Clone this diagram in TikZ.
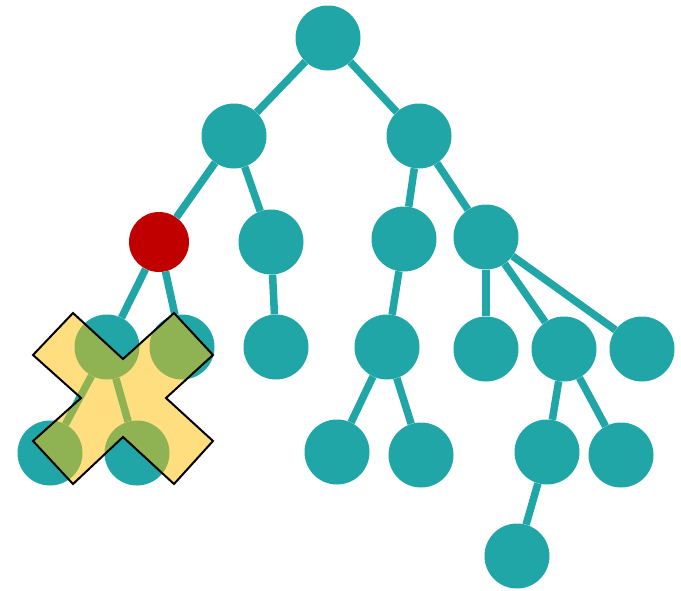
\documentclass[tikz,border=0pt]{standalone}
\definecolor{nodeteal}{RGB}{32,166,167}
\definecolor{nodered}{RGB}{192,0,0}
\definecolor{crossyellow}{RGB}{255,190,0}
\begin{document}
\begin{tikzpicture}[x=1pt,y=-1pt,
	vertex/.style={circle,fill=nodeteal,minimum size=65pt,inner sep=0pt},
	every edge/.style={draw=nodeteal,line width=7.5pt},
	cross/.style={fill=crossyellow,fill opacity=0.5,draw=black,line width=2pt,line join=miter}]
		\useasboundingbox (0,0) rectangle (681,590);
		\foreach \n/\x/\y in {1/328/38,2/234/136,3/419/136,5/271/242,6/404/239,7/486/237,
			8/107/347,9/182/347,10/276/347,11/387/347,12/486/349,13/564/349,14/642/349,
			15/50/453,16/137/453,17/337/452,18/421/455,19/547/452,20/621/455,21/517/556}{
		\node[vertex] (\n) at (\x,\y) {};
		};
		\node[vertex,fill=nodered,minimum size=60pt] (4) at (159,242) {};
		\draw (1) edge (2);
		\draw (1) edge (3);
		\draw (2) edge (4);
		\draw (2) edge (5);
		\draw (3) edge (6);
		\draw (3) edge (7);

		\draw (4) edge (8);
		\draw (4) edge (9);
		\draw (5) edge (10);
		\draw (6) edge (11);
		\draw (7) edge (12);
		\draw (7) edge (13);
		\draw (7) edge (14);

		\draw (8) edge (15);
		\draw (8) edge (16);
		\draw (11) edge (17);
		\draw (11) edge (18);
		\draw (13) edge (19);
		\draw (13) edge (20);
		\draw (19) edge (21);

		\begin{scope}[shift={(123,398)}]
		\draw[cross] (-90,-43) -- (-50,-85) -- (0,-39) -- (51,-85) -- (90,-43) -- (43,0)
			-- (90,43) -- (51,86) -- (0,39) -- (-50,86) -- (-90,43) -- (-42,0) -- cycle;
		\end{scope}
	\end{tikzpicture}
\end{document}
